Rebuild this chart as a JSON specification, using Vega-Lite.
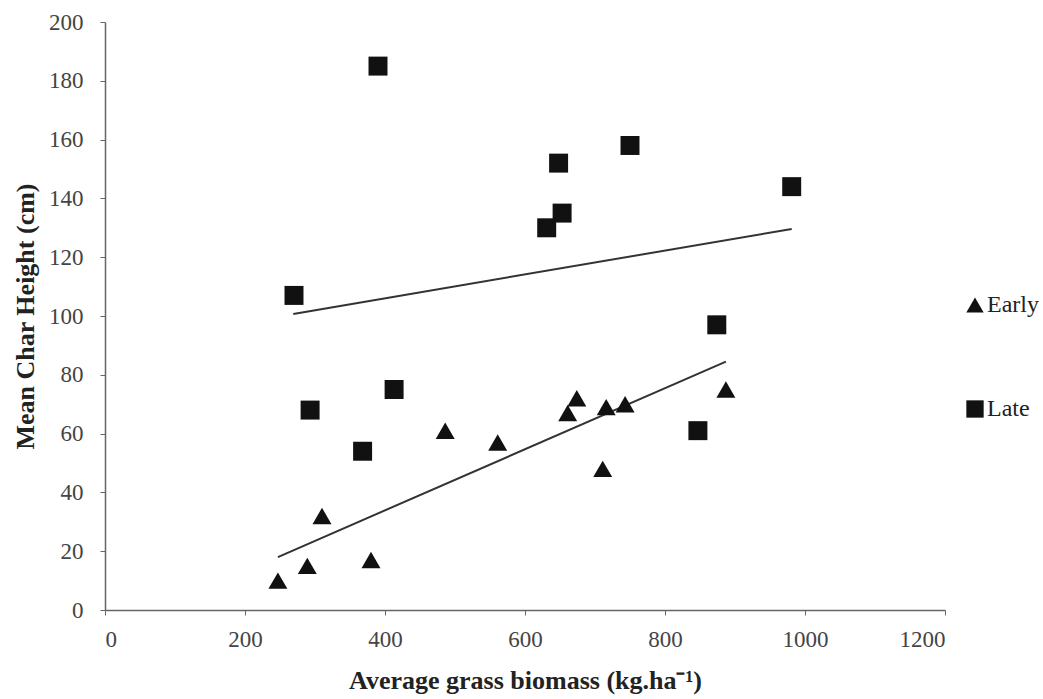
{
  "$schema": "https://vega.github.io/schema/vega-lite/v6.json",
  "width": 840,
  "height": 588,
  "autosize": "none",
  "padding": {"left": 105, "top": 22, "right": 98, "bottom": 89},
  "background": "white",
  "config": {
    "view": {"stroke": null},
    "axis": {
      "domainColor": "#666",
      "tickColor": "#666",
      "tickSize": 5,
      "domainWidth": 1.5,
      "labelColor": "#444",
      "labelFont": "Liberation Serif",
      "labelFontSize": 23,
      "titleFont": "Liberation Serif",
      "titleFontSize": 26,
      "titleFontWeight": "bold",
      "titleColor": "#222",
      "grid": false
    }
  },
  "datasets": {
    "points": [
      {"biomass": 247, "height": 10, "timing": "Early"},
      {"biomass": 289, "height": 15, "timing": "Early"},
      {"biomass": 310, "height": 32, "timing": "Early"},
      {"biomass": 380, "height": 17, "timing": "Early"},
      {"biomass": 486, "height": 61, "timing": "Early"},
      {"biomass": 561, "height": 57, "timing": "Early"},
      {"biomass": 661, "height": 67, "timing": "Early"},
      {"biomass": 674, "height": 72, "timing": "Early"},
      {"biomass": 711, "height": 48, "timing": "Early"},
      {"biomass": 716, "height": 69, "timing": "Early"},
      {"biomass": 743, "height": 70, "timing": "Early"},
      {"biomass": 887, "height": 75, "timing": "Early"},
      {"biomass": 270, "height": 107, "timing": "Late"},
      {"biomass": 293, "height": 68, "timing": "Late"},
      {"biomass": 368, "height": 54, "timing": "Late"},
      {"biomass": 413, "height": 75, "timing": "Late"},
      {"biomass": 390, "height": 185, "timing": "Late"},
      {"biomass": 631, "height": 130, "timing": "Late"},
      {"biomass": 653, "height": 135, "timing": "Late"},
      {"biomass": 648, "height": 152, "timing": "Late"},
      {"biomass": 750, "height": 158, "timing": "Late"},
      {"biomass": 981, "height": 144, "timing": "Late"},
      {"biomass": 874, "height": 97, "timing": "Late"},
      {"biomass": 847, "height": 61, "timing": "Late"}
    ],
    "trend": [
      {"biomass": 247, "height": 18, "timing": "Early"},
      {"biomass": 887, "height": 84.5, "timing": "Early"},
      {"biomass": 269, "height": 100.7, "timing": "Late"},
      {"biomass": 981, "height": 129.6, "timing": "Late"}
    ]
  },
  "layer": [
    {
      "data": {"name": "trend"},
      "mark": {"type": "line", "color": "#333", "strokeWidth": 2},
      "encoding": {
        "x": {"field": "biomass", "type": "quantitative"},
        "y": {"field": "height", "type": "quantitative"},
        "detail": {"field": "timing"}
      }
    },
    {
      "data": {"name": "points"},
      "mark": {"type": "point", "filled": true, "color": "#111", "opacity": 1, "size": 360},
      "encoding": {
        "x": {
          "field": "biomass",
          "type": "quantitative",
          "scale": {"domain": [0, 1200], "nice": false},
          "axis": {
            "values": [0, 200, 400, 600, 800, 1000, 1200],
            "format": "d",
            "labelPadding": 13,
            "titlePadding": 16,
            "title": "Average grass biomass  (kg.ha⁻¹)"
          }
        },
        "y": {
          "field": "height",
          "type": "quantitative",
          "scale": {"domain": [0, 200], "nice": false},
          "axis": {
            "values": [0, 20, 40, 60, 80, 100, 120, 140, 160, 180, 200],
            "labelPadding": 17,
            "titlePadding": 10,
            "title": "Mean Char Height (cm)"
          }
        },
        "shape": {
          "field": "timing",
          "type": "nominal",
          "scale": {"domain": ["Early", "Late"], "range": ["triangle-up", "square"]},
          "legend": {
            "title": null,
            "orient": "none",
            "legendX": 858,
            "legendY": 271,
            "rowPadding": 80,
            "labelFont": "Liberation Serif",
            "labelFontSize": 24,
            "labelColor": "#222",
            "labelOffset": 0,
            "symbolSize": 300,
            "symbolFillColor": "#111",
            "symbolStrokeWidth": 0
          }
        }
      }
    }
  ]
}
